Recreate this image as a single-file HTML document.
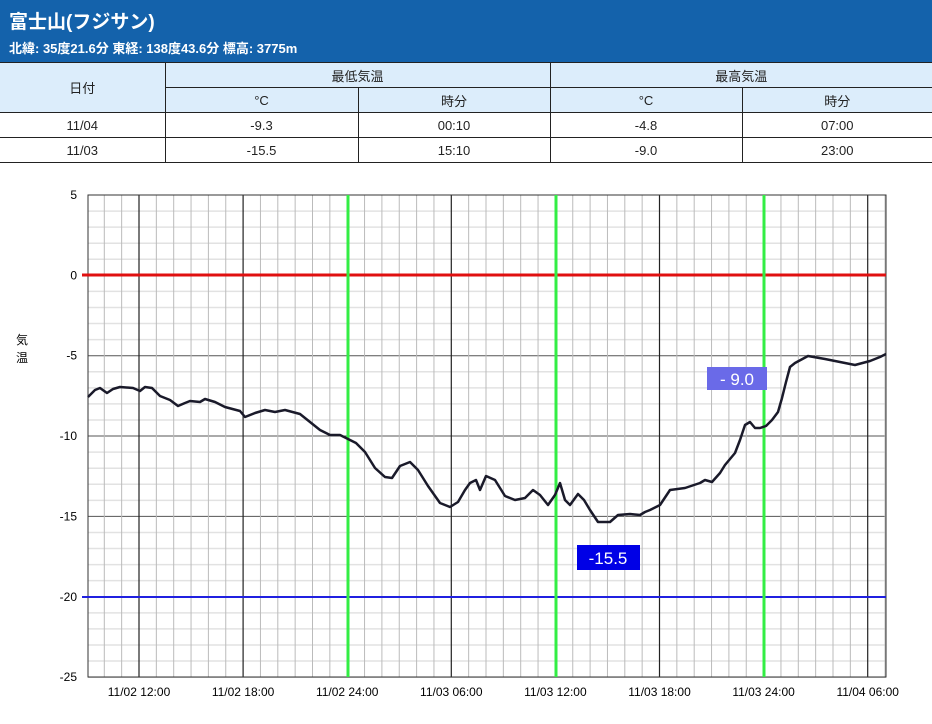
<!DOCTYPE html>
<html><head><meta charset="utf-8"><style>
body{margin:0;width:932px;height:724px;background:#fff;font-family:"Liberation Sans","Noto Sans CJK JP",sans-serif;overflow:hidden;position:relative}
.hd{position:absolute;left:0;top:0;width:932px;height:62px;background:#1462ab;color:#fff}
.t1{position:absolute;left:9px;top:7px;font-size:19px;font-weight:bold}
.t2{position:absolute;left:9px;top:38px;font-size:13px;font-weight:bold}
table{position:absolute;left:0;top:62px;width:932px;border-collapse:collapse;font-size:13px;color:#222}
td{text-align:center;border:1px solid #222;padding:0;height:24px}
.h{background:#dcedfb}
.dl{border-right:1px dotted #444}
</style></head><body>
<div class="hd"><div class="t1">富士山(フジサン)</div><div class="t2">北緯: 35度21.6分 東経: 138度43.6分 標高: 3775m</div></div>
<table>
<colgroup><col style="width:165px"><col style="width:193px"><col style="width:192px"><col style="width:192px"><col style="width:190px"></colgroup>
<tr><td class="h" rowspan="2" style="border-left:none">日付</td><td class="h" colspan="2">最低気温</td><td class="h" colspan="2" style="border-right:none">最高気温</td></tr>
<tr><td class="h dl">°C</td><td class="h">時分</td><td class="h dl">°C</td><td class="h" style="border-right:none">時分</td></tr>
<tr><td style="border-left:none">11/04</td><td class="dl">-9.3</td><td>00:10</td><td class="dl">-4.8</td><td style="border-right:none">07:00</td></tr>
<tr><td style="border-left:none">11/03</td><td class="dl">-15.5</td><td>15:10</td><td class="dl">-9.0</td><td style="border-right:none">23:00</td></tr>
</table>
<svg id="c" width="932" height="724" style="position:absolute;left:0;top:0" font-family="Liberation Sans, sans-serif" font-size="12"></svg>
<script>
var s='',i;
for(i=0;i<=30;i++){var y=195+i*16.07;s+='<line x1="88" x2="886" y1="'+y+'" y2="'+y+'" stroke="'+(i%5?'#e2e2e2':'#555')+'" stroke-width="'+(i%5?1.5:1)+'"/>';}
for(i=-3;i<=47;i++){var x=139+i*17.35;if(x<88||x>886)continue;var maj=(i%6==0);s+='<line y1="195" y2="677" x1="'+x+'" x2="'+x+'" stroke="'+(maj?'#222':'#bbb')+'" stroke-width="'+(maj?1.2:1)+'"/>';}
s+='<rect x="88" y="195" width="798" height="482" fill="none" stroke="#333"/>';
s+='<line x1="82" x2="886" y1="275" y2="275" stroke="#e01010" stroke-width="3"/>';
s+='<line x1="82" x2="886" y1="597" y2="597" stroke="#2020e0" stroke-width="2"/>';
[348,556,764].forEach(function(x){s+='<line y1="195" y2="677" x1="'+x+'" x2="'+x+'" stroke="#33ee44" stroke-width="3"/>';});
var lab=['5','0','-5','-10','-15','-20','-25'];
for(i=0;i<7;i++)s+='<text x="77" y="'+(199+i*80.35)+'" text-anchor="end" font-size="12">'+lab[i]+'</text>';
var xl=['11/02 12:00','11/02 18:00','11/02 24:00','11/03 06:00','11/03 12:00','11/03 18:00','11/03 24:00','11/04 06:00'];
for(i=0;i<8;i++)s+='<text x="'+(139+i*104.1)+'" y="696" text-anchor="middle" font-size="12">'+xl[i]+'</text>';
s+='<text x="16" y="344" font-size="12" font-family="Noto Sans CJK JP, sans-serif">気</text><text x="16" y="362" font-size="12" font-family="Noto Sans CJK JP, sans-serif">温</text>';
var p="88,397 95,390 100,388 107,393 113,389 120,387 133,388 140,391 145,387 152,388 160,396 170,400 178,406 185,403 190,401 200,402 205,399 215,402 225,407 240,411 245,417 255,413 265,410 275,412 285,410 300,414 310,422 320,430 330,435 340,435 348,439 356,443 365,452 375,468 385,477 392,478 400,466 410,462 418,470 428,486 440,503 450,507 458,502 465,490 470,483 476,480 480,490 486,476 495,480 505,496 515,500 525,498 533,490 540,495 548,505 555,495 560,483 565,500 570,505 578,494 584,500 590,510 598,522 610,522 618,515 630,514 640,515 645,512 650,510 660,505 670,490 685,488 700,483 705,480 712,482 720,473 725,465 735,453 740,440 745,425 750,422 755,428 760,428 766,426 772,420 778,412 782,398 786,382 790,367 795,363 808,356 825,359 840,362 855,365 870,361 880,357 886,354";
s+='<polyline points="'+p+'" fill="none" stroke="#1a1a2a" stroke-width="2.5" stroke-linejoin="round"/>';
s+='<rect x="707" y="367" width="60" height="23" fill="#6a6ae8"/><text x="737" y="385" text-anchor="middle" fill="#fff" font-size="17">- 9.0</text>';
s+='<rect x="577" y="545" width="63" height="25" fill="#0000e6"/><text x="608" y="564" text-anchor="middle" fill="#fff" font-size="17">-15.5</text>';
document.getElementById('c').innerHTML=s;
</script>
</body></html>
